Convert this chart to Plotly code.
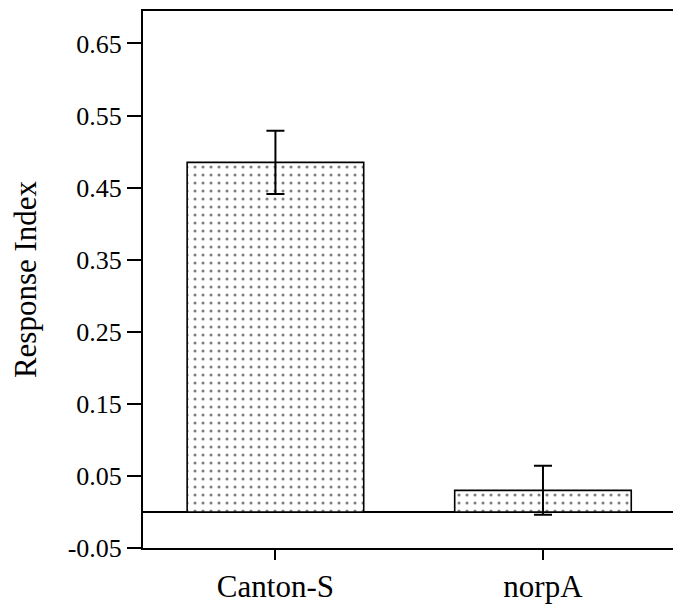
import plotly.graph_objects as go

categories = ["Canton-S", "norpA"]
values = [0.485, 0.030]
errors = [0.044, 0.034]
y_ticks = [-0.05, 0.05, 0.15, 0.25, 0.35, 0.45, 0.55, 0.65]
y_tick_labels = ["-0.05", "0.05", "0.15", "0.25", "0.35", "0.45", "0.55", "0.65"]

FONT = 'Liberation Serif, "Times New Roman", Times, serif'

fig = go.Figure()
fig.add_trace(go.Bar(
    x=categories,
    y=values,
    width=0.66,
    marker=dict(
        color="white",
        line=dict(color="black", width=1.6),
        pattern=dict(shape=".", fgcolor="black", bgcolor="white",
                     size=8, solidity=0.12, fillmode="overlay"),
    ),
    error_y=dict(type="data", array=errors, visible=True,
                 color="black", thickness=2, width=9),
    showlegend=False,
))

fig.update_layout(
    width=673, height=611,
    margin=dict(l=143, r=0, t=11, b=63),
    paper_bgcolor="white", plot_bgcolor="white",
    font=dict(family=FONT, color="black"),
    xaxis=dict(
        range=[-0.495, 1.486],
        showline=True, linecolor="black", linewidth=2, mirror=True,
        ticks="outside", ticklen=10, tickwidth=1.5, tickcolor="black",
        tickfont=dict(family=FONT, size=31, color="black"),
        showgrid=False, zeroline=False,
    ),
    yaxis=dict(
        range=[-0.05, 0.695],
        tickvals=y_ticks, ticktext=y_tick_labels,
        showline=True, linecolor="black", linewidth=2,
        ticks="outside", ticklen=14, tickwidth=2, tickcolor="black",
        tickfont=dict(family=FONT, size=26, color="black"),
        showgrid=False,
        zeroline=True, zerolinecolor="black", zerolinewidth=1.8,
        title=dict(text="Response Index", font=dict(family=FONT, size=31, color="black"),
                   standoff=22),
    ),
)

fig.write_html("out.html")
